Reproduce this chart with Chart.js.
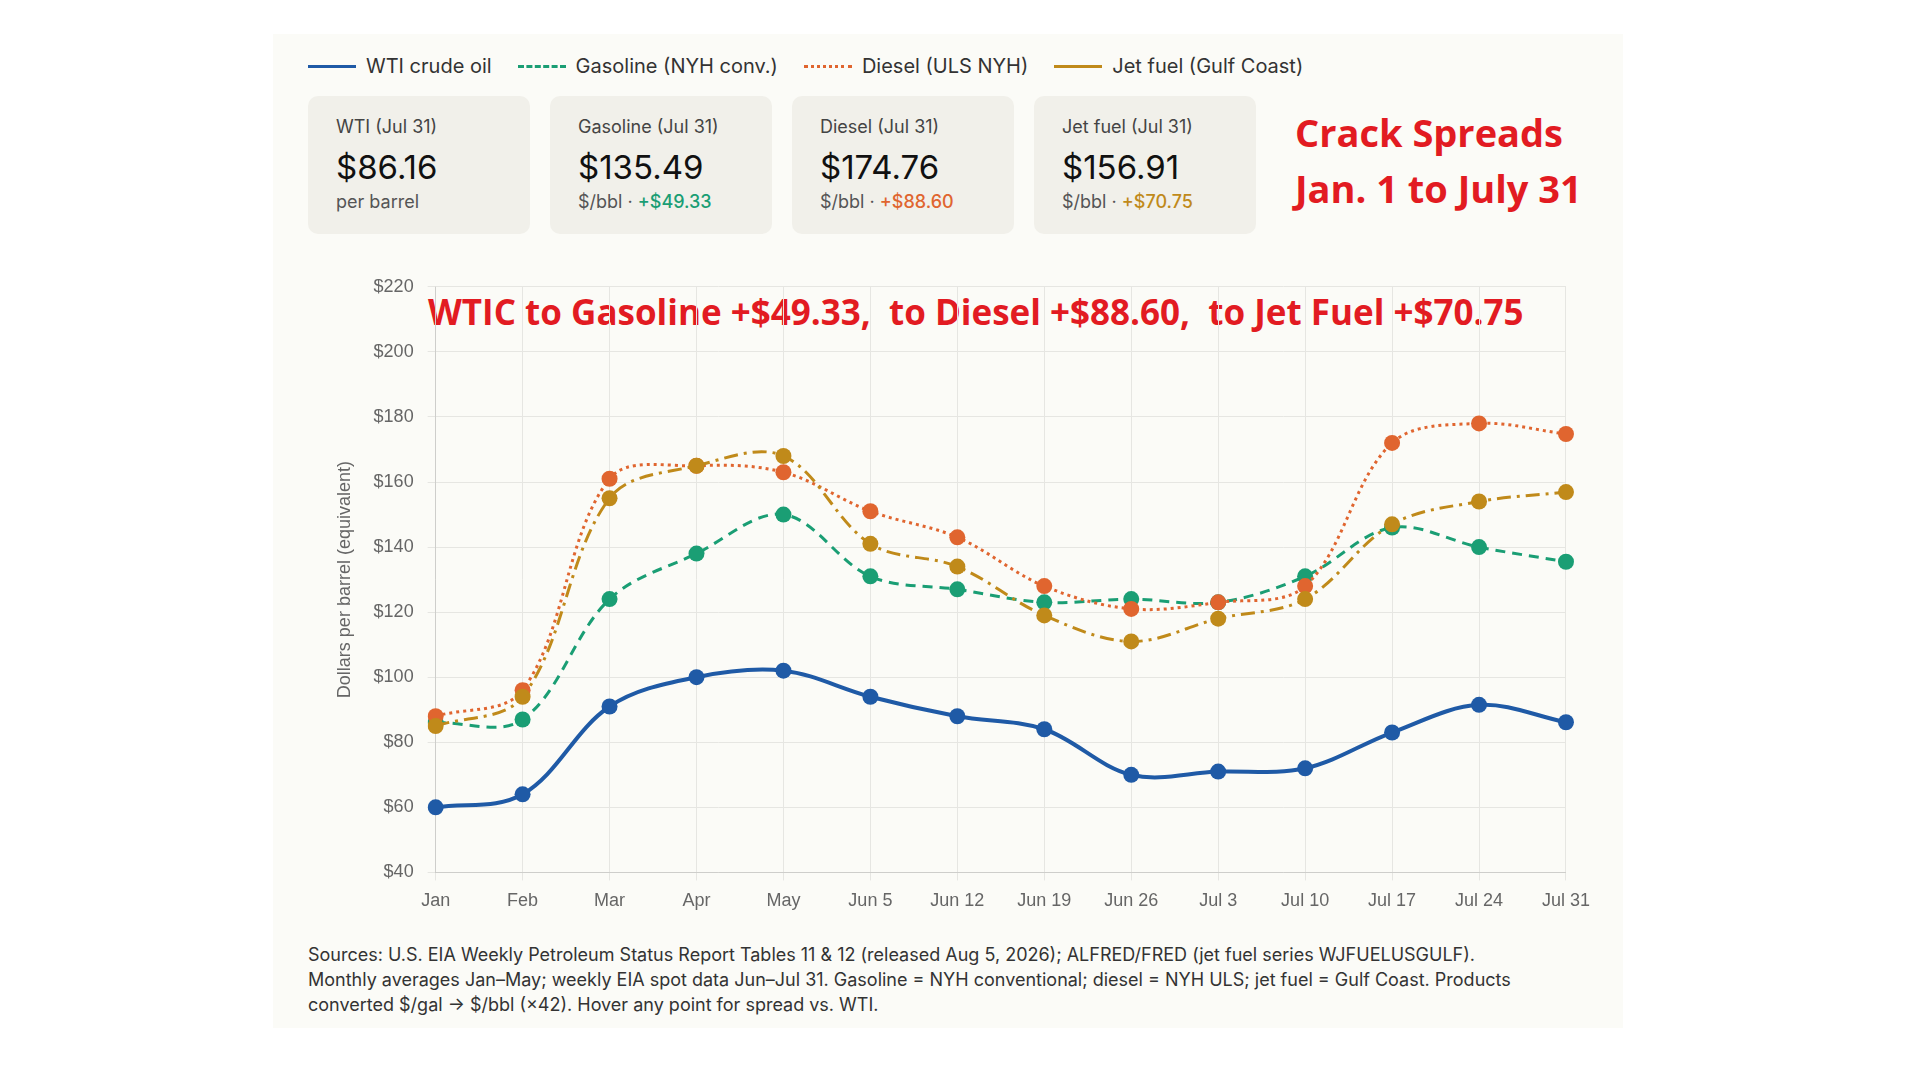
<!DOCTYPE html>
<html><head><meta charset="utf-8">
<script src="https://cdn.jsdelivr.net/npm/chart.js@4"></script>
<style>
body{margin:0;width:1920px;height:1080px;background:#fff;font-family:Inter,"Noto Sans",sans-serif;position:relative;overflow:hidden}
#card{position:absolute;left:273px;top:34px;width:1350px;height:994px;background:#fbfbf7}
.legend{position:absolute;left:308px;top:54px;font-size:20px;color:#333;display:flex;gap:26px;align-items:center}
.legend span{display:flex;align-items:center;gap:10px}
.sw{width:48px;height:0;border-top:3px solid}
.box{position:absolute;top:96px;width:222px;height:138px;background:#f1f0ea;border-radius:10px;box-sizing:border-box;padding:20px 28px}
.box .t{font-size:18px;color:#444}.box .v{font-size:33px;color:#111;margin:10px 0 4px}.box .s{font-size:18px;color:#555}
.red{position:absolute;color:#e21b22;font-weight:bold;font-family:"Open Sans",sans-serif}
#wrap{position:absolute;left:300px;top:262px;width:1300px;height:660px}
.src{position:absolute;left:308px;top:942px;font-size:18px;color:#333;line-height:25px;width:1300px}
</style></head><body>
<div id="card"></div>
<div class="legend">
<span><i class="sw" style="border-color:#1f5aa6"></i>WTI crude oil</span>
<span><i class="sw" style="border-color:#1a9e74;border-top-style:dashed"></i>Gasoline (NYH conv.)</span>
<span><i class="sw" style="border-color:#e0652f;border-top-style:dotted"></i>Diesel (ULS NYH)</span>
<span><i class="sw" style="border-color:#c08a1a"></i>Jet fuel (Gulf Coast)</span>
</div>
<div class="box" style="left:308px"><div class="t">WTI (Jul 31)</div><div class="v">$86.16</div><div class="s">per barrel</div></div>
<div class="box" style="left:550px"><div class="t">Gasoline (Jul 31)</div><div class="v">$135.49</div><div class="s">$/bbl · <b style="color:#1a9e74;font-weight:500">+$49.33</b></div></div>
<div class="box" style="left:792px"><div class="t">Diesel (Jul 31)</div><div class="v">$174.76</div><div class="s">$/bbl · <b style="color:#e0652f;font-weight:500">+$88.60</b></div></div>
<div class="box" style="left:1034px"><div class="t">Jet fuel (Jul 31)</div><div class="v">$156.91</div><div class="s">$/bbl · <b style="color:#c08a1a;font-weight:500">+$70.75</b></div></div>
<div class="red" style="left:1295px;top:104px;font-size:38px;line-height:56px">Crack Spreads<br>Jan. 1 to July 31</div>
<div class="red" style="left:428px;top:288px;font-size:35px">WTIC to Gasoline +$49.33,&nbsp; to Diesel +$88.60,&nbsp; to Jet Fuel +$70.75</div>
<div id="wrap"><canvas id="c"></canvas></div>
<div class="src">Sources: U.S. EIA Weekly Petroleum Status Report Tables 11 &amp; 12 (released Aug 5, 2026); ALFRED/FRED (jet fuel series WJFUELUSGULF).<br>Monthly averages Jan–May; weekly EIA spot data Jun–Jul 31. Gasoline = NYH conventional; diesel = NYH ULS; jet fuel = Gulf Coast. Products<br>converted $/gal → $/bbl (×42). Hover any point for spread vs. WTI.</div>
<script>
const etiquetas = ['Jan','Feb','Mar','Apr','May','Jun 5','Jun 12','Jun 19','Jun 26','Jul 3','Jul 10','Jul 17','Jul 24','Jul 31'];
const wti      = [60,64,91,100,102,94,88,84,70,71,72,83,91.5,86.16];
const gasolina = [86,87,124,138,150,131,127,123,124,123,131,146,140,135.49];
const diesel   = [88,96,161,165,163,151,143,128,121,123,128,172,178,174.76];
const jet      = [85,94,155,165,168,141,134,119,111,118,124,147,154,156.91];

function serie(label, data, cor, dash, largura) {
  return { label, data, borderColor: cor, backgroundColor: cor, borderDash: dash,
    borderWidth: largura, pointRadius: 8, pointBorderWidth: 0, tension: 0.35 };
}
new Chart(document.getElementById('c'), {
  type: 'line',
  data: { labels: etiquetas, datasets: [
    serie('Jet fuel (Gulf Coast)', jet, '#c08a1a', [14,6,3,6], 3),
    serie('Diesel (ULS NYH)', diesel, '#e0652f', [3,4], 3),
    serie('Gasoline (NYH conv.)', gasolina, '#1a9e74', [10,7], 3),
    serie('WTI crude oil', wti, '#1f5aa6', [], 4)
  ]},
  options: {
    responsive: true, maintainAspectRatio: false, animation: false,
    layout: { padding: { right: 34, left: 30 } },
    plugins: { legend: { display: false }, tooltip: { enabled: false } },
    scales: {
      x: { offset: false, grid: { color: '#e6e6e2' }, ticks: { color: '#666', font: { size: 18 }, padding: 10 } },
      y: { min: 40, max: 220, ticks: { stepSize: 20, color: '#666', font: { size: 18 }, padding: 14, callback: v => '$' + v },
        grid: { color: '#e6e6e2' },
        title: { display: true, text: 'Dollars per barrel (equivalent)', color: '#666', font: { size: 18 } } }
    }
  }
});
</script>
</body></html>
